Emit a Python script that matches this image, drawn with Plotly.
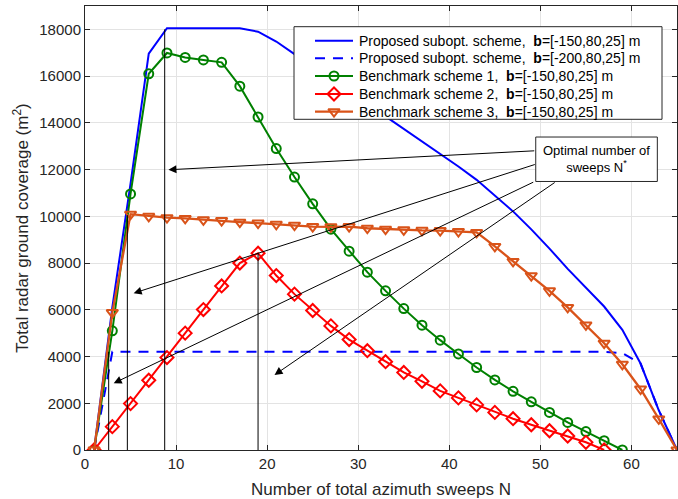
import plotly.graph_objects as go

# ---------------- data ----------------
N_odd = list(range(1, 66, 2))  # 1,3,...,65

prop_150 = [0, 6100, 11400, 16960, 18050, 18050, 18050, 18050, 18050, 17900,
            17480, 16940, 16400, 15870, 15340, 14810, 14280, 13750, 13220, 12690,
            12130, 11560, 10900, 10210, 9440, 8620, 7750, 6950, 6140, 5140,
            3700, 1700, 0]

prop_200 = [0, 4200, 4200, 4200, 4200, 4200, 4200, 4200, 4200, 4200,
            4200, 4200, 4200, 4200, 4200, 4200, 4200, 4200, 4200, 4200,
            4200, 4200, 4200, 4200, 4200, 4200, 4200, 4200, 4200, 4150,
            3700, 1700, 0]

N_b1 = list(range(1, 60, 2))
bench1 = [0, 5100, 10960, 16100, 16990, 16800, 16690, 16590, 15570, 14250,
          12900, 11680, 10535, 9450, 8510, 7610, 6810, 6050, 5340, 4700,
          4110, 3530, 3000, 2510, 2060, 1610, 1180, 790, 400, 0]

N_b2 = list(range(1, 58, 2))
bench2 = [0, 1000, 1985, 2985, 3955, 5000, 6010, 7020, 8000, 8420,
          7465, 6670, 5970, 5310, 4725, 4250, 3780, 3320, 2940, 2530,
          2230, 1930, 1610, 1340, 1080, 825, 600, 330, 0]

N_b3 = list(range(1, 66, 2))
bench3 = [0, 5880, 10090, 10000, 9940, 9910, 9850, 9820, 9750, 9710,
          9660, 9620, 9560, 9550, 9560, 9490, 9450, 9420, 9400, 9390,
          9350, 9310, 8710, 8070, 7460, 6810, 6100, 5350, 4570, 3670,
          2610, 1330, 0]

# optimal N* stems
n_star = [2.6, 4.65, 8.75, 19.0]
n_star_val = [4200, 10050, 18000, 8420]

legend_names = [
    "Proposed subopt. scheme, &nbsp;<b>b</b>=[-150,80,25] m",
    "Proposed subopt. scheme, &nbsp;<b>b</b>=[-200,80,25] m",
    "Benchmark scheme 1, &nbsp;<b>b</b>=[-150,80,25] m",
    "Benchmark scheme 2, &nbsp;<b>b</b>=[-150,80,25] m",
    "Benchmark scheme 3, &nbsp;<b>b</b>=[-150,80,25] m",
]

x_ticks = [0, 10, 20, 30, 40, 50, 60]
y_ticks = list(range(0, 18001, 2000))

FONT = "Liberation Sans, Arial, Helvetica, sans-serif"
AX = "#262626"

# series styles
styles = [
    dict(mode="lines", line=dict(color="#0000FF", width=2), marker=None),
    dict(mode="lines", line=dict(color="#0000FF", width=2, dash="10px,8px"), marker=None),
    dict(mode="lines+markers", line=dict(color="#008000", width=2),
         marker=dict(symbol="circle-open", size=9, color="#008000", line=dict(width=2))),
    dict(mode="lines+markers", line=dict(color="#FF0000", width=2),
         marker=dict(symbol="diamond-open", size=10, color="#FF0000", line=dict(width=2))),
    dict(mode="lines+markers", line=dict(color="#D95319", width=2.3),
         marker=dict(symbol="triangle-down-open", size=10, color="#D95319", line=dict(width=2))),
]
series = [(N_odd, prop_150), (N_odd, prop_200), (N_b1, bench1), (N_b2, bench2), (N_b3, bench3)]

# plot area geometry (pixels)
L, R, T, B = 85, 677, 6, 450
W_FIG, H_FIG = 678, 499


def px(p):
    return (p - L) / (R - L)


def py(p):
    return (B - p) / (B - T)


fig = go.Figure()

for (xs, ys), st, nm in zip(series, styles, legend_names):
    kw = dict(x=xs, y=ys, mode=st["mode"], line=st["line"], name=nm, showlegend=False)
    if st["marker"] is not None:
        kw["marker"] = st["marker"]
    fig.add_trace(go.Scatter(**kw))

# vertical stems at N*
for xs, ys in zip(n_star, n_star_val):
    fig.add_shape(type="line", x0=xs, x1=xs, y0=0, y1=ys, xref="x", yref="y",
                  line=dict(color="black", width=1), layer="above")

# annotation box
box_x0, box_x1 = 49.49, 62.84
box_y0, box_y1 = 11491, 13393
fig.add_shape(type="rect", x0=box_x0, x1=box_x1, y0=box_y0, y1=box_y1,
              xref="x", yref="y", line=dict(color=AX, width=1),
              fillcolor="white", layer="above")
fig.add_annotation(x=(box_x0 + box_x1) / 2, y=(box_y0 + box_y1) / 2, xref="x", yref="y",
                   text="Optimal number of<br>sweeps N<sup>*</sup>", showarrow=False,
                   font=dict(family=FONT, size=13, color="black"), align="center")

# arrows (tail -> head)
arrows = [
    ((49.49, 12806), (9.16, 11992)),
    ((49.55, 12237), (5.34, 6711)),
    ((49.38, 11491), (3.15, 2857)),
    ((51.74, 11491), (20.81, 3212)),
]
for (tx, ty), (hx, hy) in arrows:
    fig.add_annotation(x=hx, y=hy, ax=tx, ay=ty, xref="x", yref="y", axref="x", ayref="y",
                       showarrow=True, arrowhead=2, arrowsize=1.6, arrowwidth=1,
                       arrowcolor="black", text="")

# ---------------- manual legend on an overlay axis (paper-like coords) ----------------
lg_x0, lg_x1, lg_y0, lg_y1 = 294, 662, 26.7, 119.3
row_y = [40.7, 58.3, 76.0, 94.0, 111.7]
samp_x0, samp_x1, text_x = 315, 353, 357

fig.add_trace(go.Scatter(
    x=[px(lg_x0), px(lg_x1), px(lg_x1), px(lg_x0), px(lg_x0)],
    y=[py(lg_y0), py(lg_y0), py(lg_y1), py(lg_y1), py(lg_y0)],
    mode="lines", fill="toself", fillcolor="white",
    line=dict(color=AX, width=1), xaxis="x2", yaxis="y2",
    showlegend=False, hoverinfo="skip"))

for ry, st, nm in zip(row_y, styles, legend_names):
    fig.add_trace(go.Scatter(
        x=[px(samp_x0), px(samp_x1)], y=[py(ry), py(ry)], mode="lines",
        line=st["line"], xaxis="x2", yaxis="y2", showlegend=False, hoverinfo="skip"))
    if st["marker"] is not None:
        fig.add_trace(go.Scatter(
            x=[px((samp_x0 + samp_x1) / 2)], y=[py(ry)], mode="markers",
            marker=st["marker"], xaxis="x2", yaxis="y2", showlegend=False, hoverinfo="skip"))
    fig.add_annotation(x=px(text_x), y=py(ry), xref="x2", yref="y2", text=nm,
                       showarrow=False, xanchor="left", yanchor="middle",
                       font=dict(family=FONT, size=14, color="black"))

fig.update_layout(
    width=W_FIG, height=H_FIG,
    margin=dict(l=L, r=W_FIG - R, t=T, b=H_FIG - B),
    paper_bgcolor="white", plot_bgcolor="white",
    font=dict(family=FONT, size=13, color=AX),
    showlegend=False,
    xaxis2=dict(overlaying="x", range=[0, 1], visible=False, fixedrange=True),
    yaxis2=dict(overlaying="y", range=[0, 1], visible=False, fixedrange=True),
)
fig.update_xaxes(selector=dict(anchor="y"), range=[0, 65], tickvals=x_ticks,
                 ticktext=[str(v) for v in x_ticks],
                 showgrid=True, gridcolor="#e3e3e3", gridwidth=1,
                 showline=True, linecolor=AX, linewidth=1, mirror="ticks",
                 ticks="inside", ticklen=5, tickcolor=AX, zeroline=False,
                 tickfont=dict(size=15, color=AX),
                 title=dict(text="Number of total azimuth sweeps N", font=dict(size=17, color=AX),
                            standoff=12))
fig.update_layout(yaxis=dict(range=[0, 19000], tickvals=y_ticks,
                             ticktext=[str(v) for v in y_ticks],
                             showgrid=True, gridcolor="#e3e3e3", gridwidth=1,
                             showline=True, linecolor=AX, linewidth=1, mirror="ticks",
                             ticks="inside", ticklen=5, tickcolor=AX, zeroline=False,
                             tickfont=dict(size=15, color=AX),
                             title=dict(text="Total radar ground coverage (m<sup>2</sup>)",
                                        font=dict(size=17, color=AX), standoff=6)))
fig.update_layout(xaxis=dict(range=[0, 65], tickvals=x_ticks,
                             ticktext=[str(v) for v in x_ticks],
                             showgrid=True, gridcolor="#e3e3e3", gridwidth=1,
                             showline=True, linecolor=AX, linewidth=1, mirror="ticks",
                             ticks="inside", ticklen=5, tickcolor=AX, zeroline=False,
                             tickfont=dict(size=15, color=AX),
                             title=dict(text="Number of total azimuth sweeps N",
                                        font=dict(size=17, color=AX), standoff=12)))

fig.write_html("out.html")
